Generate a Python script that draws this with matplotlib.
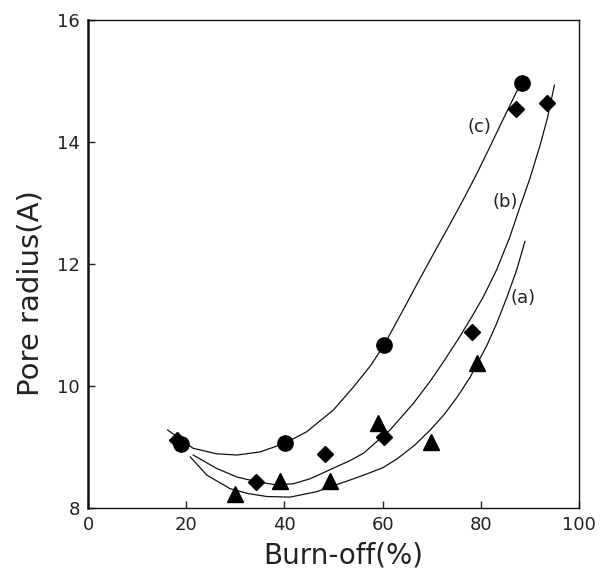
import matplotlib
matplotlib.use("Agg")
import matplotlib.pyplot as plt

# ---- data ----
# measured points
a_x = [30.0, 39.0, 49.2, 59.0, 69.9, 79.3]
a_y = [8.23, 8.44, 8.44, 9.39, 9.08, 10.37]

b_x = [18.2, 34.3, 48.2, 60.3, 78.3, 87.2, 93.4]
b_y = [9.12, 8.43, 8.89, 9.17, 10.88, 14.54, 14.64]

c_x = [19.0, 40.2, 60.2, 88.3]
c_y = [9.05, 9.06, 10.68, 14.96]

# trend curves
ca_x = [20.8, 24.2, 28.9, 32.5, 36.4, 41.1, 46.6, 49.3, 53.0, 56.1, 60.0, 63.0, 66.5,
        69.7, 72.5, 75.1, 77.8, 81.2, 83.2, 85.3, 87.3, 89.0]
ca_y = [8.84, 8.54, 8.32, 8.24, 8.19, 8.18, 8.27, 8.35, 8.45, 8.54, 8.66, 8.81, 9.03,
        9.28, 9.53, 9.81, 10.14, 10.66, 11.02, 11.45, 11.90, 12.37]

cb_x = [21.4, 26.2, 30.3, 34.5, 38.4, 41.8, 45.2, 49.3, 53.4, 56.1, 61.5, 66.3, 69.7,
        72.5, 75.8, 78.5, 80.5, 83.2, 85.9, 88.0, 90.0, 92.1, 93.6, 95.0]
cb_y = [8.87, 8.65, 8.51, 8.43, 8.38, 8.40, 8.48, 8.63, 8.78, 8.90, 9.28, 9.72, 10.08,
        10.41, 10.82, 11.18, 11.46, 11.90, 12.44, 12.94, 13.40, 13.95, 14.40, 14.93]

cc_x = [16.2, 21.4, 26.2, 30.3, 35.0, 40.0, 44.5, 50.0, 54.0, 57.5, 60.2, 64.2, 67.6,
        71.0, 73.7, 76.4, 79.0, 81.5, 84.6, 88.0]
cc_y = [9.28, 8.98, 8.89, 8.87, 8.92, 9.06, 9.25, 9.61, 9.98, 10.33, 10.66, 11.25, 11.76,
        12.26, 12.65, 13.05, 13.45, 13.86, 14.38, 14.94]

curve_labels = ["(a)", "(b)", "(c)"]
label_x = [88.7, 84.9, 79.8]
label_y = [11.44, 13.02, 14.25]

x_ticks = [0, 20, 40, 60, 80, 100]
y_ticks = [8, 10, 12, 14, 16]

# ---- figure ----
fig = plt.figure(figsize=(6.12, 5.69), dpi=100)
ax = fig.add_axes([0.144, 0.107, 0.802, 0.858])

lc = "#111111"
ax.plot(ca_x, ca_y, color=lc, lw=0.9)
ax.plot(cb_x, cb_y, color=lc, lw=0.9)
ax.plot(cc_x, cc_y, color=lc, lw=0.9)

ax.plot(a_x, a_y, linestyle="none", marker="^", markersize=11, color="black")
ax.plot(b_x, b_y, linestyle="none", marker="D", markersize=8.5, color="black")
ax.plot(c_x, c_y, linestyle="none", marker="o", markersize=11, color="black")

for t, x, y in zip(curve_labels, label_x, label_y):
    ax.text(x, y, t, fontsize=13, ha="center", va="center", color="#222222")

ax.set_xlim(0, 100)
ax.set_ylim(8, 16)
ax.set_xticks(x_ticks)
ax.set_yticks(y_ticks)
ax.tick_params(direction="in", length=5, width=1, labelsize=13, colors="#222222", pad=6)

for s in ax.spines.values():
    s.set_linewidth(1.0)
    s.set_color("#111111")
ax.spines["left"].set_linewidth(1.8)

ax.set_xlabel("Burn-off(%)", fontsize=20, color="#222222", va="center")
ax.set_ylabel("Pore radius(A)", fontsize=21, color="#222222", va="center")
ax.xaxis.set_label_coords(0.52, -0.098)
ax.yaxis.set_label_coords(-0.118, 0.44)

fig.savefig("out.png", dpi=100)
